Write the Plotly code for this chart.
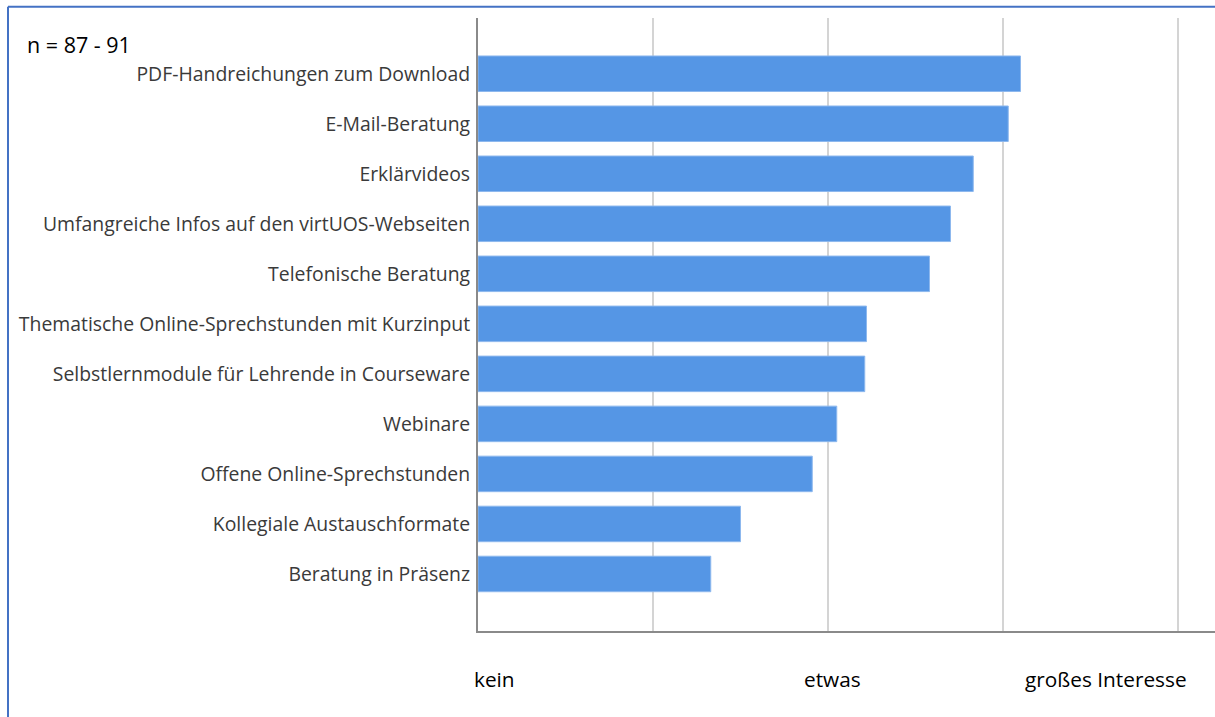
import plotly.graph_objects as go

categories = [
    "PDF-Handreichungen zum Download",
    "E-Mail-Beratung",
    "Erklärvideos",
    "Umfangreiche Infos auf den virtUOS-Webseiten",
    "Telefonische Beratung",
    "Thematische Online-Sprechstunden mit Kurzinput",
    "Selbstlernmodule für Lehrende in Courseware",
    "Webinare",
    "Offene Online-Sprechstunden",
    "Kollegiale Austauschformate",
    "Beratung in Präsenz",
]
values = [3.10, 3.03, 2.83, 2.70, 2.58, 2.22, 2.21, 2.05, 1.91, 1.50, 1.33]
scale_labels = ["kein", "etwas", "großes Interesse"]
scale_positions = [-0.02, 1.87, 3.13]
n_note = "n = 87 - 91"

W, H = 1215, 717
L, T, B = 478, 18, 86
px_per_unit = 175.0
x_max = (W - L) / px_per_unit

fig = go.Figure(go.Bar(
    x=values, y=categories, orientation="h",
    marker=dict(color="#5596E5", line=dict(color="#8DB8EE", width=1)),
    width=0.71, hoverinfo="x+y",
))

fig.update_layout(
    width=W, height=H,
    margin=dict(l=L, r=0, t=T, b=B, pad=0),
    paper_bgcolor="white", plot_bgcolor="white",
    showlegend=False,
    font=dict(family="Open Sans, sans-serif", color="#404040", size=19.4),
    xaxis=dict(
        range=[0, x_max], tickvals=[0, 1, 2, 3, 4], showticklabels=False,
        showgrid=True, gridcolor="#D4D4D4", gridwidth=2,
        zeroline=False, showline=True, linecolor="#8A8A8A", linewidth=2,
        ticks="", fixedrange=True,
    ),
    yaxis=dict(
        type="category", categoryorder="array", categoryarray=categories,
        range=[len(categories) - 1 + 1.14, -1.114],
        showgrid=False, zeroline=False, showline=True,
        linecolor="#8A8A8A", linewidth=2, ticks="",
        ticklabelstandoff=2, tickfont=dict(size=19.4, color="#3A3A3A"),
        fixedrange=True,
    ),
    bargap=0.29,
)

for lab, pos in zip(scale_labels, scale_positions):
    px = L + pos * px_per_unit - 3
    fig.add_annotation(
        x=(px - L) / (W - L), xref="paper", y=(631 - 679) / 612.7, yref="paper",
        text=lab, showarrow=False, xanchor="left", yanchor="middle",
        font=dict(size=20.8, color="#000000", family="Open Sans, sans-serif"),
    )

fig.add_annotation(
    x=(25 - L) / (W - L), xref="paper", y=(631 - 45) / 612.7, yref="paper",
    text=n_note, showarrow=False, xanchor="left", yanchor="middle",
    font=dict(size=21.5, color="#000000", family="Open Sans, sans-serif"),
)

# blue frame (left and top edges of the embedded picture)
fx = (8 - L) / (W - L)
fy = (631 - 7) / 612.7
fig.add_shape(type="line", xref="paper", yref="paper",
              x0=fx, x1=fx, y0=fy, y1=-0.3,
              line=dict(color="#4472C4", width=2))
fig.add_shape(type="line", xref="paper", yref="paper",
              x0=fx, x1=1.05, y0=fy, y1=fy,
              line=dict(color="#4472C4", width=2))

fig.write_html("out.html")
